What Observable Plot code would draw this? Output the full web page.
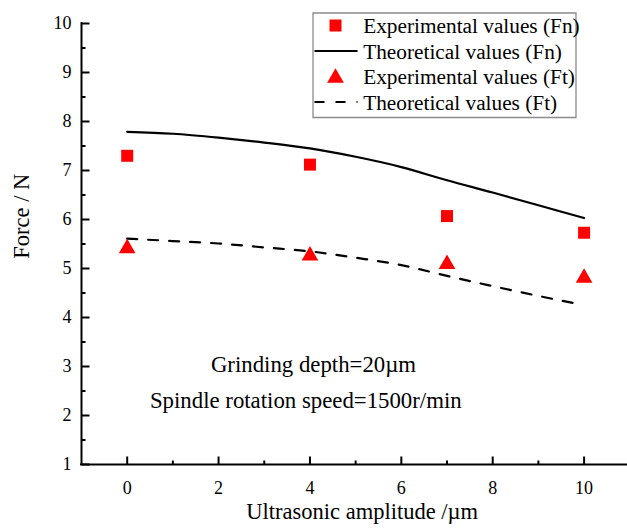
<!DOCTYPE html>
<html>
<head>
<meta charset="utf-8">
<script src="https://cdn.jsdelivr.net/npm/d3@7"></script>
<script src="https://cdn.jsdelivr.net/npm/@observablehq/plot@0.6"></script>
<style>
  html, body { margin: 0; padding: 0; background: #ffffff; }
  #chart { width: 627px; height: 528px; }
  #chart svg, #chart svg text { font-family: "Liberation Serif", "Times New Roman", Times, serif !important; }
</style>
</head>
<body>
<div id="chart"></div>
<script>
// ---------- data ----------
const amplitudes = [0, 4, 7, 10];
const expFn = [7.30, 7.12, 6.07, 5.73];
const expFt = [5.41, 5.26, 5.09, 4.81];

const theoryFnX = [0, 1, 2, 3, 4, 5, 6, 7, 8, 9, 10];
const theoryFn  = [7.79, 7.75, 7.67, 7.57, 7.45, 7.28, 7.07, 6.80, 6.55, 6.29, 6.03];

const theoryFtX = [0, 1, 2, 3, 4, 5, 6, 7, 8, 9, 9.8];
const theoryFt  = [5.61, 5.56, 5.51, 5.43, 5.35, 5.22, 5.07, 4.85, 4.64, 4.44, 4.29];

const xDomain = [-1, 10.95];
const yDomain = [1, 10];
const xTicks = [0, 2, 4, 6, 8, 10];
const xMinorTicks = [1, 3, 5, 7, 9];
const yTicks = [1, 2, 3, 4, 5, 6, 7, 8, 9, 10];
const yMinorTicks = [1.5, 2.5, 3.5, 4.5, 5.5, 6.5, 7.5, 8.5, 9.5];

const xLabel = "Ultrasonic amplitude /\u00B5m";
const yLabel = "Force / N";
const legendLabels = [
  "Experimental values (Fn)",
  "Theoretical values (Fn)",
  "Experimental values (Ft)",
  "Theoretical values (Ft)"
];
const annotations = ["Grinding depth=20\u00B5m", "Spindle rotation speed=1500r/min"];

// ---------- tables ----------
const expTable = amplitudes.map((a, i) => ({a, fn: expFn[i], ft: expFt[i]}));
const fnLine = theoryFnX.map((a, i) => ({a, v: theoryFn[i]}));
const ftLine = theoryFtX.map((a, i) => ({a, v: theoryFt[i]}));

// ---------- styles ----------
const RED = "#ff0000";
const serif = "Liberation Serif";
const DASH = "10,11";

function segment(x0, y0, x1, y1) {
  return {draw(ctx) { ctx.moveTo(x0, y0); ctx.lineTo(x1, y1); }};
}
const tickUpMajor = segment(0, 0, 0, -8);
const tickUpMinor = segment(0, 0, 0, -4);
const tickRightMajor = segment(0, 0, 8, 0);
const tickRightMinor = segment(0, 0, 4, 0);
const legendLine = segment(-21, 0, 22, 0);
const legendBox = {draw(ctx) { ctx.rect(231.5, -10.5, 263, 104.5); }};

const legendRowDy = i => 2 + 25.5 * i;
const legendKinds = ["square", "line", "triangle", "dash"];

const legendMarks = [];
legendMarks.push(Plot.dot([0], {frameAnchor: "top-left", symbol: legendBox, fill: "white", stroke: "#8a8a8a", strokeWidth: 1.3}));
legendKinds.forEach((k, i) => {
  const dy = legendRowDy(i);
  if (k === "square") {
    legendMarks.push(Plot.dot([0], {frameAnchor: "top-left", dx: 254, dy, symbol: "square", r: 6.77, fill: RED, stroke: "none"}));
  } else if (k === "triangle") {
    legendMarks.push(Plot.dot([0], {frameAnchor: "top-left", dx: 254, dy: dy + 1.5, symbol: "triangle", r: 6.2, fill: RED, stroke: "none"}));
  } else {
    legendMarks.push(Plot.dot([0], {frameAnchor: "top-left", dx: 254, dy, symbol: legendLine, fill: "none", stroke: "black", strokeWidth: 2.2, strokeDasharray: k === "dash" ? DASH : null}));
  }
  legendMarks.push(Plot.text([legendLabels[i]], {frameAnchor: "top-left", dx: 281.7, dy: dy + 7.8, text: d => d, textAnchor: "start", lineAnchor: "bottom", fontSize: 21.3, fontFamily: serif, fill: "black"}));
});

const chart = Plot.plot({
  width: 627,
  height: 528,
  marginLeft: 81,
  marginRight: 0,
  marginTop: 23,
  marginBottom: 64,
  style: {fontFamily: serif, fontSize: "18px", color: "black", background: "white"},
  x: {domain: xDomain},
  y: {domain: yDomain},
  marks: [
    // annotations
    Plot.text([annotations[0]], {frameAnchor: "top-left", dx: 232, dy: 348.4, text: d => d, textAnchor: "middle", lineAnchor: "bottom", fontSize: 22.8, fontFamily: serif, fill: "black"}),
    Plot.text([annotations[1]], {frameAnchor: "top-left", dx: 224.3, dy: 384, text: d => d, textAnchor: "middle", lineAnchor: "bottom", fontSize: 22.8, fontFamily: serif, fill: "black"}),
    // theoretical lines
    Plot.line(fnLine, {x: "a", y: "v", curve: "monotone-x", stroke: "black", strokeWidth: 2.2}),
    Plot.line(ftLine, {x: "a", y: "v", curve: "monotone-x", stroke: "black", strokeWidth: 2.2, strokeDasharray: DASH}),
    // experimental points
    Plot.dot(expTable, {x: "a", y: "fn", symbol: "square", r: 6.77, fill: RED, stroke: "none"}),
    Plot.dot(expTable, {x: "a", y: "ft", symbol: "triangle", r: 6.2, fill: RED, stroke: "none"}),
    // axes lines
    Plot.ruleX([xDomain[0]], {stroke: "black", strokeWidth: 2, strokeLinecap: "square"}),
    Plot.ruleY([yDomain[0]], {stroke: "black", strokeWidth: 2, strokeLinecap: "square"}),
    // inward ticks
    Plot.dot(xTicks, {x: d => d, frameAnchor: "bottom", symbol: tickUpMajor, fill: "none", stroke: "black", strokeWidth: 2}),
    Plot.dot(xMinorTicks, {x: d => d, frameAnchor: "bottom", symbol: tickUpMinor, fill: "none", stroke: "black", strokeWidth: 2}),
    Plot.dot(yTicks, {y: d => d, frameAnchor: "left", symbol: tickRightMajor, fill: "none", stroke: "black", strokeWidth: 2}),
    Plot.dot(yMinorTicks, {y: d => d, frameAnchor: "left", symbol: tickRightMinor, fill: "none", stroke: "black", strokeWidth: 2}),
    // tick labels
    Plot.axisX({ticks: xTicks, tickSize: 0, tickPadding: 17, label: null, fontSize: 18, fontFamily: serif, fill: "black"}),
    Plot.axisY({ticks: yTicks, tickSize: 0, tickPadding: 10, label: null, fontSize: 18, fontFamily: serif, fill: "black"}),
    // axis titles
    Plot.text([xLabel], {frameAnchor: "bottom", dx: 7.7, dy: 54, text: d => d, textAnchor: "middle", lineAnchor: "bottom", fontSize: 22.5, fontFamily: serif, fill: "black"}),
    Plot.text([yLabel], {frameAnchor: "left", dx: -52.7, dy: -27.8, rotate: -90, text: d => d, textAnchor: "middle", lineAnchor: "bottom", fontSize: 22.5, fontFamily: serif, fill: "black"}),
    // legend
    ...legendMarks
  ]
});
document.getElementById("chart").appendChild(chart);
</script>
</body>
</html>
